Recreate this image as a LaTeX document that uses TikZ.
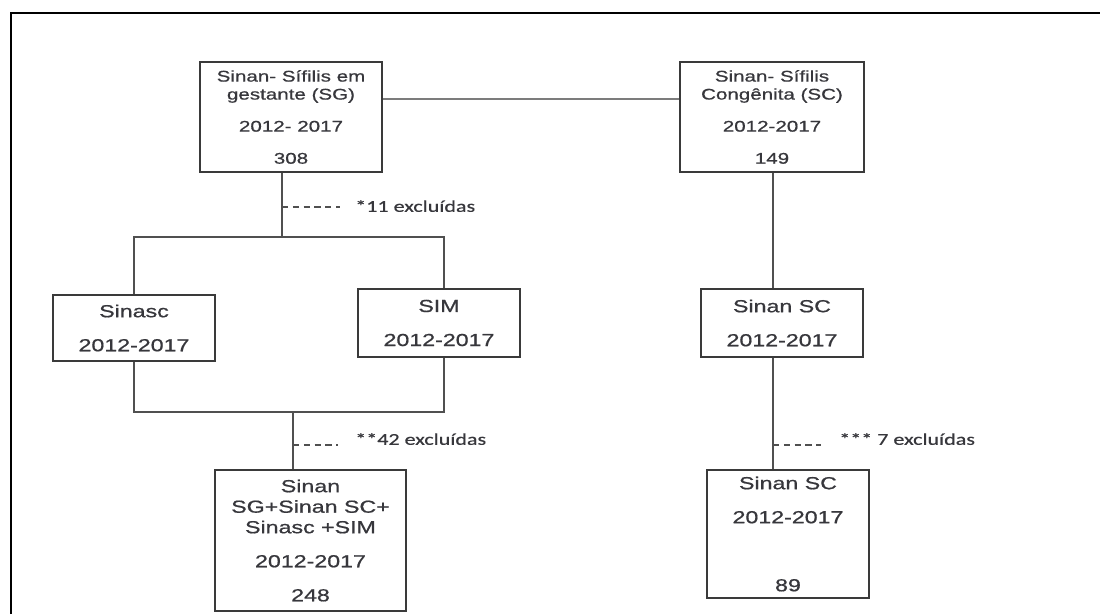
\documentclass[tikz,border=0pt]{standalone}
\usepackage{fontspec}
\setmainfont{Liberation Sans}[FakeStretch=1.33, FakeBold=0.8]
\newfontfamily\notefont{Carlito}[FakeStretch=1.33, FakeBold=0.6]
\usepackage{xcolor}
\definecolor{boxline}{RGB}{58, 58, 58}
\definecolor{linkgray}{RGB}{80, 80, 80}
\definecolor{textgray}{RGB}{55, 55, 60}
\usetikzlibrary{positioning, calc}

\begin{document}
\begin{tikzpicture}[
        x=0.025cm, y=-0.025cm,
        frame/.style={draw=black, line width=1.5pt},
        srcbox/.style={rectangle, draw=boxline, line width=1.1pt, inner sep=0pt, align=center, text=textgray, font=\fontsize{11}{12.8}\selectfont},
        subbox/.style={srcbox, font=\fontsize{12.4}{14.6}\selectfont},
        link/.style={draw=linkgray, line width=1.1pt},
        excl/.style={draw=linkgray, line width=0.8pt, dash pattern=on 4.3pt off 3.4pt},
        note/.style={right, inner sep=0pt, text=textgray, font=\notefont\fontsize{11.8}{14}\selectfont}
    ]
        \useasboundingbox (0,0) rectangle (1100,614);
        \draw[frame] (11,614) -- (11,13) -- (1100,13);

        % fontes iniciais
        \node[srcbox, minimum width=4.55cm, minimum height=2.75cm] (sg) at (291,117)
            {Sinan- Sífilis em\\gestante (SG)\\[10pt]2012- 2017\\[10pt]308};
        \node[srcbox, minimum width=4.6cm, minimum height=2.75cm] (sc) at (772,117)
            {Sinan- Sífilis\\Congênita (SC)\\[10pt]2012-2017\\[10pt]149};

        \node[subbox, minimum width=4.05cm, minimum height=1.65cm] (sinasc) at (134,328)
            {Sinasc\\[9.6pt]2012-2017};
        \node[subbox, minimum width=4.05cm, minimum height=1.7cm] (sim) at (439,323)
            {SIM\\[9.6pt]2012-2017};
        \node[subbox, minimum width=4.05cm, minimum height=1.7cm] (scmid) at (782,323)
            {Sinan SC\\[9.6pt]2012-2017};

        % bases finais
        \node[subbox, minimum width=4.775cm, minimum height=3.525cm] (all) at (310.5,540.5)
            {Sinan\\SG+Sinan SC+\\Sinasc +SIM\\[9.6pt]2012-2017\\[9.6pt]248};
        \node[subbox, minimum width=4.05cm, minimum height=3.2cm] (scend) at (788,534)
            {Sinan SC\\[9.6pt]2012-2017\\[33.8pt]89};

        \coordinate (split) at (282,237);
        \coordinate (splitR) at (444,237);
        \coordinate (merge) at (293,412);
        \coordinate (mergeR) at (444,412);
        \coordinate (sccol) at (773,0);

        \draw[link, draw=linkgray!75, line width=1.5pt] (sg.east |- 0,99) -- (sc.west |- 0,99);
        \draw[link] (split |- sg.south) -- (split);
        \draw[link] (sinasc.north) |- (splitR) -- (splitR |- sim.north);
        \draw[link] (sinasc.south) |- (mergeR) -- (mergeR |- sim.south);
        \draw[link] (merge) -- (merge |- all.north);
        \draw[link] (sccol |- sc.south) -- (sccol |- scmid.north);
        \draw[link] (sccol |- scmid.south) -- (sccol |- scend.north);

        % exclusoes
        \draw[excl] (split |- 0,207) -- ++(58,0);
        \node[note] (ex1) at (355,206) {*11 excluídas};
        \draw[excl] (merge |- 0,445) -- ++(45,0);
        \node[note] (ex2) at (355,439) {**42 excluídas};
        \draw[excl] (sccol |- 0,445) -- ++(48,0);
        \node[note] (ex3) at (839,439) {*** 7 excluídas};
    \end{tikzpicture}
\end{document}
